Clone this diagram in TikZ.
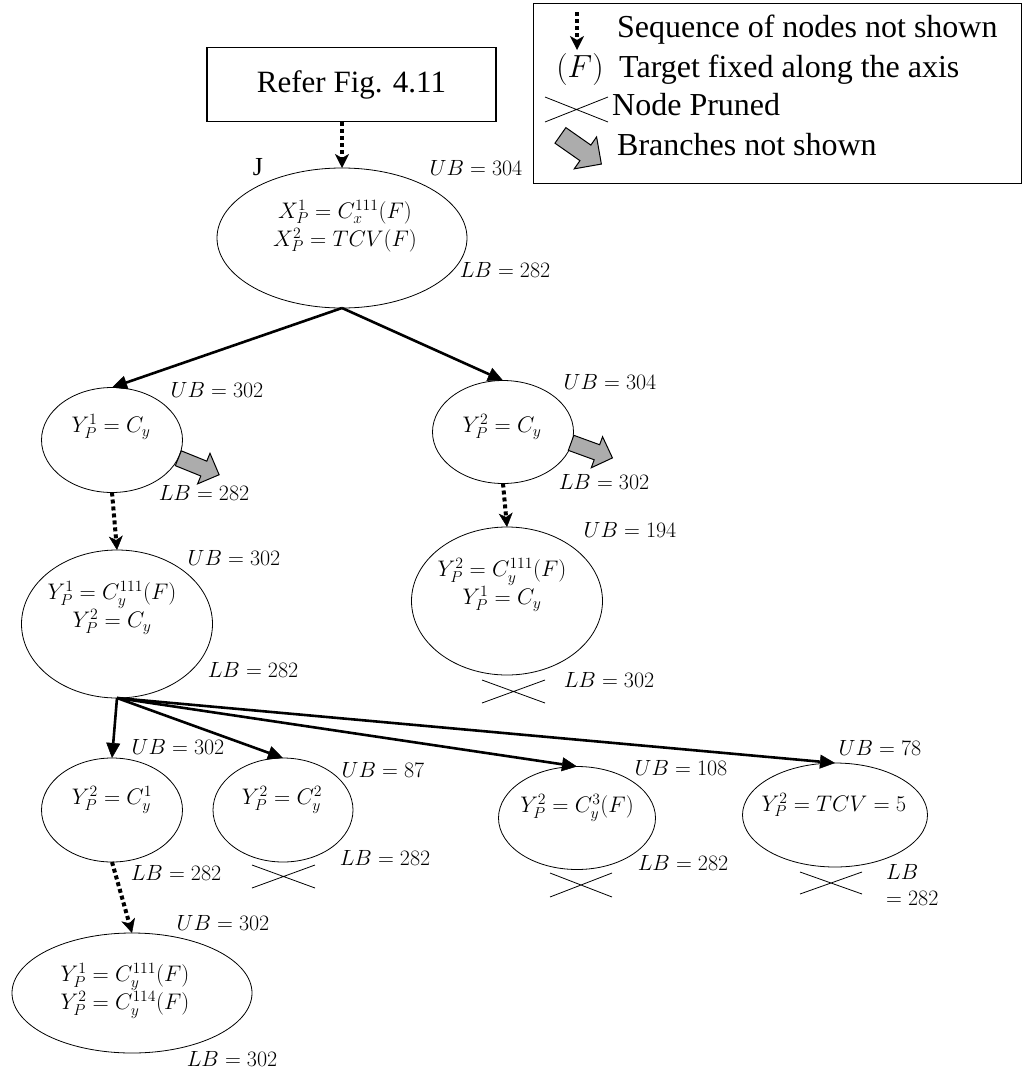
\RequirePackage{fix-cm}
\documentclass[tikz,border=0pt]{standalone}
\usepackage{fontspec}
\setmainfont{Liberation Serif}
\usetikzlibrary{arrows.meta,shapes.geometric,shapes.arrows}
\begin{document}
\begin{tikzpicture}[x=1pt,y=-1pt,
  state/.style={draw, ellipse, line width=0.8pt, inner sep=0pt, outer sep=0pt},
  mtext/.style={font=\fontsize{22.5}{28}\selectfont, align=center, inner sep=0pt},
  bound/.style={font=\fontsize{22}{26}\selectfont, inner sep=0pt},
  legtext/.style={font=\fontsize{32}{36}\selectfont, inner sep=0pt, anchor=base west},
  branch/.style={line width=2.6pt, -{Triangle[length=15pt,width=14pt,line width=0.5pt]}},
  seq/.style={line width=4pt, dash pattern=on 4pt off 3pt,
    -{Stealth[length=14pt,width=14pt,inset=4pt,line width=0.5pt]}},
  pruned/.style={line width=0.8pt},
  fatarrow/.style={single arrow, draw, line width=1pt, fill=gray!65,
    text height=7.5pt, text depth=7.5pt, text width=0pt,
    minimum height=44pt, single arrow head extend=8.5pt,
    single arrow head indent=0pt, inner sep=0pt, outer sep=0pt},
]
\useasboundingbox (0,0) rectangle (1024,1071);

% ---- legend ----
\node[draw, line width=1.2pt, minimum width=488pt, minimum height=180pt,
      anchor=north west, inner sep=0pt] (legend) at (533,3) {};
\coordinate (lgA) at (577,12);
\coordinate (lgB) at (577,50);
\draw[seq] (lgA) -- (lgB);
\node[legtext] (lg1) at (617,37) {Sequence of nodes not shown};
\node[font=\fontsize{32}{36}\selectfont, inner sep=0pt, anchor=base] (lgF) at (580,77) {$(F)$};
\node[legtext] (lg2) at (619,77) {Target fixed along the axis};
\draw[pruned] (545,97) -- (608,122) (545,122) -- (608,97);
\node[legtext] (lg3) at (612,115) {Node Pruned};
\node[fatarrow, minimum height=50pt, text height=9pt, text depth=9pt,
      single arrow head extend=10pt, rotate=-35] (lgArrow) at (577,147) {};
\node[legtext] (lg4) at (617,155) {Branches not shown};

% ---- start box ----
\node[draw, line width=1.6pt, minimum width=289pt, minimum height=74pt,
      inner sep=0pt, font=\fontsize{31}{36}\selectfont] (refer) at (351.5,84.5) {Refer Fig. 4.11};

% ---- nodes ----
\node[state, minimum width=250pt, minimum height=140pt] (J) at (342,238) {};
\node[mtext] (Jt) at (345,226) {$X_P^1 = C_x^{111}(F)$\\$X_P^2 = TCV(F)$};
\node[font=\fontsize{26}{30}\selectfont, inner sep=0pt] (Jlab) at (258,167) {J};
\node[bound] (JUB) at (476,168) {$UB = 304$};
\node[bound] (JLB) at (505,270) {$LB = 282$};

\node[state, minimum width=141pt, minimum height=105pt] (Y1) at (112,440) {};
\node[mtext] (Y1t) at (111,427) {$Y_P^1 = C_y$};
\node[bound] (Y1UB) at (217,390) {$UB = 302$};
\node[bound] (Y1LB) at (204,493) {$LB = 282$};
\node[fatarrow, rotate=-22] (Y1br) at (195,465) {};

\node[state, minimum width=141pt, minimum height=103pt] (Y2) at (503,432) {};
\node[mtext] (Y2t) at (502,427) {$Y_P^2 = C_y$};
\node[bound] (Y2UB) at (610,382) {$UB = 304$};
\node[bound] (Y2LB) at (604,482) {$LB = 302$};
\node[fatarrow, rotate=-20] (Y2br) at (588,449) {};

\node[state, minimum width=191pt, minimum height=148pt] (Y1b) at (117,624) {};
\node[mtext] (Y1bt) at (112,608) {$Y_P^1 = C_y^{111}(F)$\\$Y_P^2 = C_y$};
\node[bound] (Y1bUB) at (234,558) {$UB = 302$};
\node[bound] (Y1bLB) at (253,670) {$LB = 282$};

\node[state, minimum width=191pt, minimum height=148pt] (Y2b) at (507,601) {};
\node[mtext] (Y2bt) at (502,585) {$Y_P^2 = C_y^{111}(F)$\\$Y_P^1 = C_y$};
\node[bound] (Y2bUB) at (630,530) {$UB = 194$};
\node[bound] (Y2bLB) at (609,680) {$LB = 302$};
\draw[pruned] (482,680) -- (545,703) (482,703) -- (545,680);

\node[state, minimum width=141pt, minimum height=104pt] (C1) at (112,810) {};
\node[mtext] (C1t) at (112,800) {$Y_P^2 = C_y^1$};
\node[bound] (C1UB) at (178,747) {$UB = 302$};
\node[bound] (C1LB) at (176,873) {$LB = 282$};

\node[state, minimum width=140pt, minimum height=104pt] (C2) at (283,810) {};
\node[mtext] (C2t) at (282,800) {$Y_P^2 = C_y^2$};
\node[bound] (C2UB) at (383,770) {$UB = 87$};
\node[bound] (C2LB) at (385,858) {$LB = 282$};
\draw[pruned] (252,865) -- (315,888) (252,888) -- (315,865);

\node[state, minimum width=157pt, minimum height=103pt] (C3) at (577,818) {};
\node[mtext] (C3t) at (577,808) {$Y_P^2 = C_y^3(F)$};
\node[bound] (C3UB) at (681,768) {$UB = 108$};
\node[bound] (C3LB) at (683,863) {$LB = 282$};
\draw[pruned] (550,873) -- (612,897) (550,897) -- (612,873);

\node[state, minimum width=185pt, minimum height=104pt] (C4) at (835,815) {};
\node[mtext] (C4t) at (834,805) {$Y_P^2 = TCV = 5$};
\node[bound] (C4UB) at (880,748) {$UB = 78$};
\node[bound, align=left, anchor=west] (C4LB) at (886,885) {$LB$\\$= 282$};
\draw[pruned] (800,872) -- (862,894) (800,894) -- (862,872);

\node[state, minimum width=240pt, minimum height=120pt] (L) at (132,993) {};
\node[mtext] (Lt) at (125,991) {$Y_P^1 = C_y^{111}(F)$\\$Y_P^2 = C_y^{114}(F)$};
\node[bound] (LUB) at (223,923) {$UB = 302$};
\node[bound] (LLB) at (232,1059) {$LB = 302$};

% ---- connectors ----
\draw[seq] (J.north |- refer.south) -- (J.north);
\draw[branch] (J.south) -- (Y1.north);
\draw[branch] (J.south) -- (Y2.north);
\draw[seq] (Y1.south) -- (Y1b.north);
\draw[seq] (Y2.south) -- (Y2b.north);
\draw[branch] (Y1b.south) -- (C1.north);
\draw[branch] (Y1b.south) -- (C2.north);
\draw[branch] (Y1b.south) -- (C3.north);
\draw[branch] (Y1b.south) -- (C4.north);
\draw[seq] (C1.south) -- (L.north);
\end{tikzpicture}
\end{document}
